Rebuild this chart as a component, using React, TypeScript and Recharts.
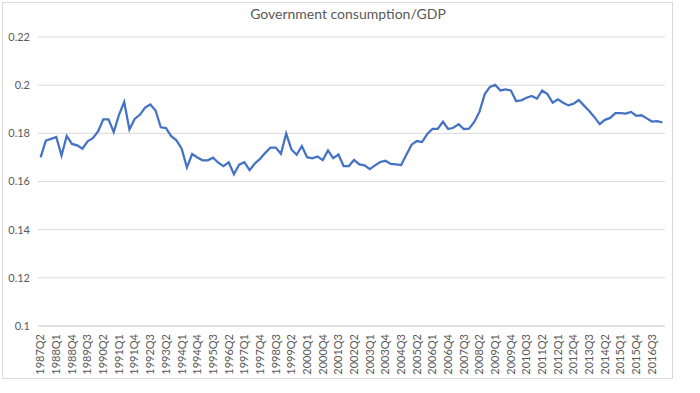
import React from 'react';
import { LineChart, Line, XAxis, YAxis, CartesianGrid } from 'recharts';

// quarterly series, 1987Q2 .. 2017Q1
const startYear = 1987;
const startQuarter = 2;

const govShare = [
  0.170, 0.177, 0.1777, 0.1785, 0.1708, 0.1789, 0.1756, 0.175, 0.1736, 0.1767,
  0.178, 0.1808, 0.1858, 0.1858, 0.1805, 0.1877, 0.193, 0.1816, 0.186, 0.1877,
  0.1907, 0.192, 0.1895, 0.1825, 0.1822, 0.1788, 0.1771, 0.1736, 0.1658, 0.1714,
  0.170, 0.1688, 0.1688, 0.1699, 0.1678, 0.1664, 0.168, 0.163, 0.167, 0.168,
  0.1647, 0.1675, 0.1694, 0.1719, 0.1741, 0.1741, 0.1715, 0.1799, 0.1733, 0.1711,
  0.1747, 0.1701, 0.1696, 0.1704, 0.1689, 0.1729, 0.1697, 0.1712, 0.1664, 0.1664,
  0.169, 0.1671, 0.1667, 0.1651, 0.1667, 0.1681, 0.1686, 0.1673, 0.1671, 0.1668,
  0.1711, 0.1753, 0.1768, 0.1764, 0.1797, 0.1818, 0.1818, 0.1848, 0.1818, 0.1823,
  0.1838, 0.1818, 0.1819, 0.1847, 0.189, 0.1963, 0.1993, 0.2001, 0.1978, 0.1982,
  0.1978, 0.1934, 0.1937, 0.1948, 0.1955, 0.1944, 0.1978, 0.1963, 0.1927, 0.1941,
  0.1927, 0.1916, 0.1923, 0.1938, 0.1915, 0.1893, 0.1867, 0.1838, 0.1856, 0.1864,
  0.1884, 0.1884, 0.1882, 0.1889, 0.1873, 0.1875, 0.1862, 0.1849, 0.1851, 0.1845,
];

const yTicks = [0.1, 0.12, 0.14, 0.16, 0.18, 0.2, 0.22];

const quarterLabel = (i: number) => {
  const q = startQuarter - 1 + i;
  return `${startYear + Math.floor(q / 4)}Q${(q % 4) + 1}`;
};

const data = govShare.map((v, i) => ({ quarter: quarterLabel(i), value: v }));

const FONT = 'Lato, "Open Sans", sans-serif';
const TEXT = '#595959';

const QuarterTick = (props: any) => {
  const { x, y, payload } = props;
  return (
    <text
      x={x}
      y={y}
      transform={`rotate(-90, ${x}, ${y})`}
      textAnchor="end"
      dy="0.35em"
      fill={TEXT}
      fontSize={11}
      fontFamily={FONT}
    >
      {payload.value}
    </text>
  );
};

export default function App() {
  return (
    <div style={{ position: 'absolute', left: 0, top: 0, width: 700, height: 393, background: '#fff' }}>
      <div
        style={{
          position: 'absolute',
          left: 2,
          top: 2,
          width: 669,
          height: 375,
          border: '1px solid #D9D9D9',
        }}
      />
      <div
        style={{
          position: 'absolute',
          left: 0,
          top: 5,
          width: 696,
          textAlign: 'center',
          fontFamily: FONT,
          fontSize: 14,
          color: TEXT,
        }}
      >
        Government consumption/GDP
      </div>
      <div style={{ position: 'absolute', left: 0, top: 0 }}>
        <LineChart width={700} height={393} data={data} margin={{ top: 37, right: 35, bottom: 22, left: 8 }}>
          <CartesianGrid vertical={false} stroke="#D9D9D9" strokeWidth={1} />
          <XAxis
            dataKey="quarter"
            interval={2}
            height={45}
            axisLine={{ stroke: '#D9D9D9' }}
            tickLine={false}
            padding={{ left: 2.6, right: 2.6 }}
            tick={<QuarterTick />}
          />
          <YAxis
            width={30}
            domain={[0.1, 0.22]}
            ticks={yTicks}
            axisLine={false}
            tickLine={false}
            tick={{ fill: TEXT, fontSize: 11, fontFamily: FONT }}
          />
          <Line
            type="linear"
            dataKey="value"
            stroke="#4472C4"
            strokeWidth={2.25}
            dot={false}
            isAnimationActive={false}
          />
        </LineChart>
      </div>
    </div>
  );
}
